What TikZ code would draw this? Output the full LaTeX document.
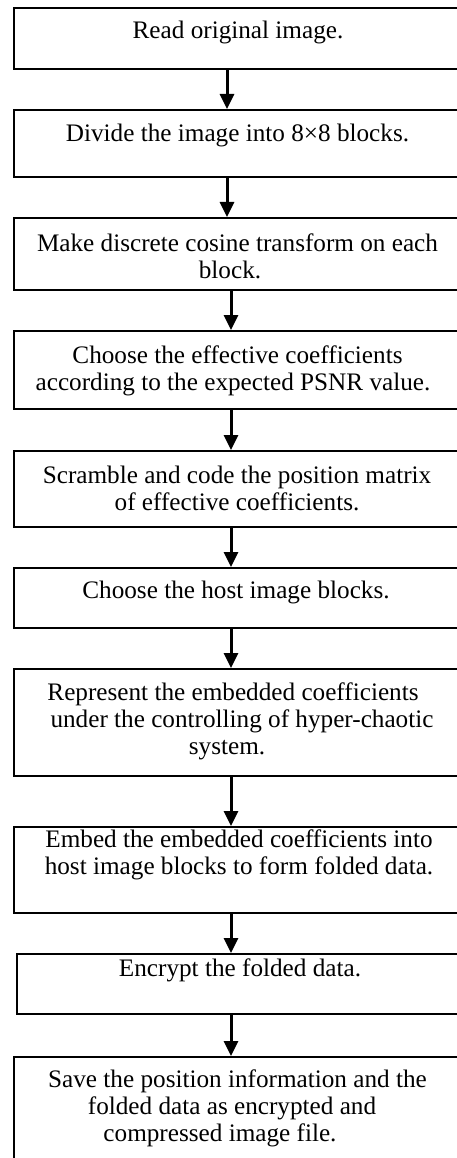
\documentclass[tikz,border=0pt]{standalone}
\usepackage{fontspec}
\setmainfont{Liberation Serif}
\usetikzlibrary{arrows.meta}

\begin{document}
\begin{tikzpicture}[x=1pt,y=-1pt,
  stepbox/.style={draw, line width=2.2pt, inner sep=0pt, anchor=north west, minimum width=446pt},
  steptext/.style={align=center, inner sep=0pt, font=\fontsize{25.2}{27}\selectfont},
  flow/.style={line width=3pt, -{Triangle[width=14pt,length=15pt]}}]
\clip (0,0) rectangle (457,1158);

% frames of the ten steps
\node (b1)  [stepbox, minimum height=61pt]  at (13,7)    {};
\node (b2)  [stepbox, minimum height=67pt]  at (13,109)  {};
\node (b3)  [stepbox, minimum height=72pt]  at (13,217)  {};
\node (b4)  [stepbox, minimum height=78pt]  at (13,330)  {};
\node (b5)  [stepbox, minimum height=76pt]  at (13,450)  {};
\node (b6)  [stepbox, minimum height=60pt]  at (13,567)  {};
\node (b7)  [stepbox, minimum height=107pt] at (13,668)  {};
\node (b8)  [stepbox, minimum height=86pt]  at (13,826)  {};
\node (b9)  [stepbox, minimum height=60pt, minimum width=443pt] at (16,953) {};
\node (b10) [stepbox, minimum height=120pt] at (13,1056) {};

% texts of the steps
\node (t1)  [steptext] at (238,32)   {Read original image.};
\node (t2)  [steptext] at (237.5,135) {Divide the image into 8×8 blocks.};
\node (t3)  [steptext] at (237.5,256) {Make discrete cosine transform on each\\block.\rule{15pt}{0pt}};
\node (t4)  [steptext] at (237.5,371) {Choose the effective coefficients\\according to the expected PSNR value.\rule{9pt}{0pt}};
\node (t5)  [steptext] at (237,488.5) {Scramble and code the position matrix\\of effective coefficients.};
\node (t6)  [steptext] at (236,592)  {Choose the host image blocks.};
\node (t7)  [steptext] at (237,721.5) {Represent the embedded coefficients\rule{8pt}{0pt}\\\rule{10pt}{0pt}under the controlling of hyper-chaotic\\system.\rule{20pt}{0pt}};
\node (t8)  [steptext] at (239,855)  {Embed the embedded coefficients into\\host image blocks to form folded data.};
\node (t9)  [steptext] at (240,970)  {Encrypt the folded data.};
\node (t10) [steptext] at (237.5,1108.5) {Save the position information and the\\folded data as encrypted and\rule{11pt}{0pt}\\compressed image file.\rule{35pt}{0pt}};

% arrows between consecutive steps
\coordinate (axa) at (227,0);
\coordinate (axb) at (231,0);
\draw[flow] (b1.south -| axa) -- (b2.north -| axa);
\draw[flow] (b2.south -| axa) -- (b3.north -| axa);
\draw[flow] (b3.south -| axb) -- (b4.north -| axb);
\draw[flow] (b4.south -| axb) -- (b5.north -| axb);
\draw[flow] (b5.south -| axb) -- (b6.north -| axb);
\draw[flow] (b6.south -| axb) -- (b7.north -| axb);
\draw[flow] (b7.south -| axb) -- (b8.north -| axb);
\draw[flow] (b8.south -| axb) -- (b9.north -| axb);
\draw[flow] (b9.south -| axb) -- (b10.north -| axb);
\end{tikzpicture}
\end{document}
